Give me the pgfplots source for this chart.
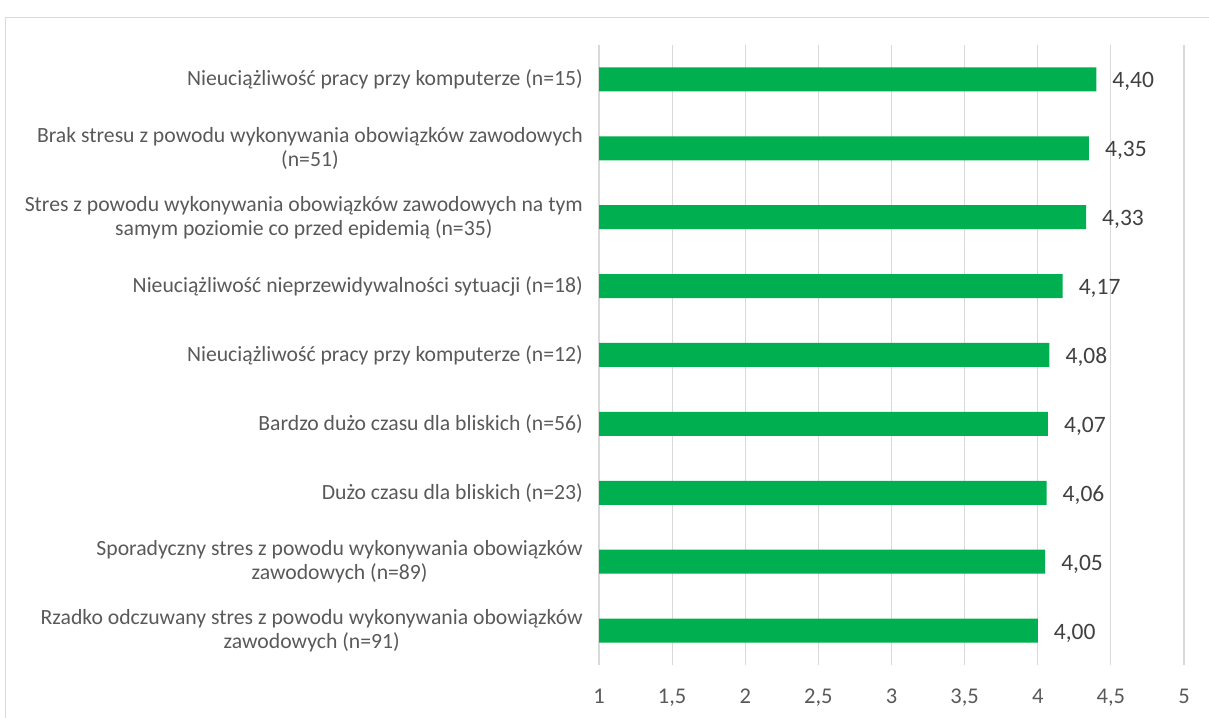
\documentclass[border=0pt]{standalone}
\usepackage{fontspec}
\setmainfont{Carlito}
\usepackage{pgfplots}
\pgfplotsset{compat=1.18}
\definecolor{bargreen}{HTML}{00B050}
\definecolor{txtgray}{HTML}{595959}
\definecolor{valgray}{HTML}{404040}
\definecolor{gridgray}{HTML}{D9D9D9}
\begin{document}
\begin{tikzpicture}
\path[use as bounding box] (0bp,0bp) rectangle (1209bp,718bp);
\begin{scope}
\clip (0bp,0bp) rectangle (1209bp,718bp);
\draw[gridgray, line width=1.5bp] (5.5bp,-20bp) -- (5.5bp,700.5bp) -- (1230bp,700.5bp);
\end{scope}
\begin{axis}[
  at={(599bp,53bp)}, anchor=south west,
  scale only axis, width=585bp, height=620bp,
  xmin=1, xmax=5, ymin=-0.5, ymax=8.5,
  xbar, bar width=24bp, bar shift=0pt,
  axis line style={draw=none},
  major tick length=0pt,
  xtick={1,1.5,2,2.5,3,3.5,4,4.5,5},
  xmajorgrids, grid style={gridgray, line width=1.2bp},
  xticklabel style={font=\fontsize{22.5bp}{24bp}\selectfont, text=txtgray, anchor=base, inner sep=0pt, yshift=-38bp},
  /pgf/number format/.cd, use comma, assume math mode=true,
  /pgfplots/.cd,
  ytick={0,...,8},
  yticklabels={
    {Rzadko odczuwany stres z powodu wykonywania obowiązków\\zawodowych (n=91)},
    {Sporadyczny stres z powodu wykonywania obowiązków\\zawodowych (n=89)},
    {Dużo czasu dla bliskich (n=23)},
    {Bardzo dużo czasu dla bliskich (n=56)},
    {Nieuciążliwość pracy przy komputerze (n=12)},
    {Nieuciążliwość nieprzewidywalności sytuacji (n=18)},
    {Stres z powodu wykonywania obowiązków zawodowych na tym\\samym poziomie co przed epidemią (n=35)},
    {Brak stresu z powodu wykonywania obowiązków zawodowych\\(n=51)},
    {Nieuciążliwość pracy przy komputerze (n=15)}
  },
  yticklabel style={font=\fontsize{21.7bp}{24bp}\selectfont, text=txtgray, align=center, anchor=east, inner sep=0pt, xshift=-16bp},
  nodes near coords,
  nodes near coords style={font=\fontsize{23.5bp}{24bp}\selectfont, text=valgray, anchor=base west, inner sep=0pt, xshift=16bp, yshift=-8.5bp,
    /pgf/number format/.cd, fixed, fixed zerofill, precision=2, use comma, assume math mode=true},
]
\addplot[fill=bargreen, draw=none] coordinates {
  (4.00,0) (4.05,1) (4.06,2) (4.07,3) (4.08,4) (4.17,5) (4.33,6) (4.35,7) (4.40,8)
};
\end{axis}
\end{tikzpicture}
\end{document}
